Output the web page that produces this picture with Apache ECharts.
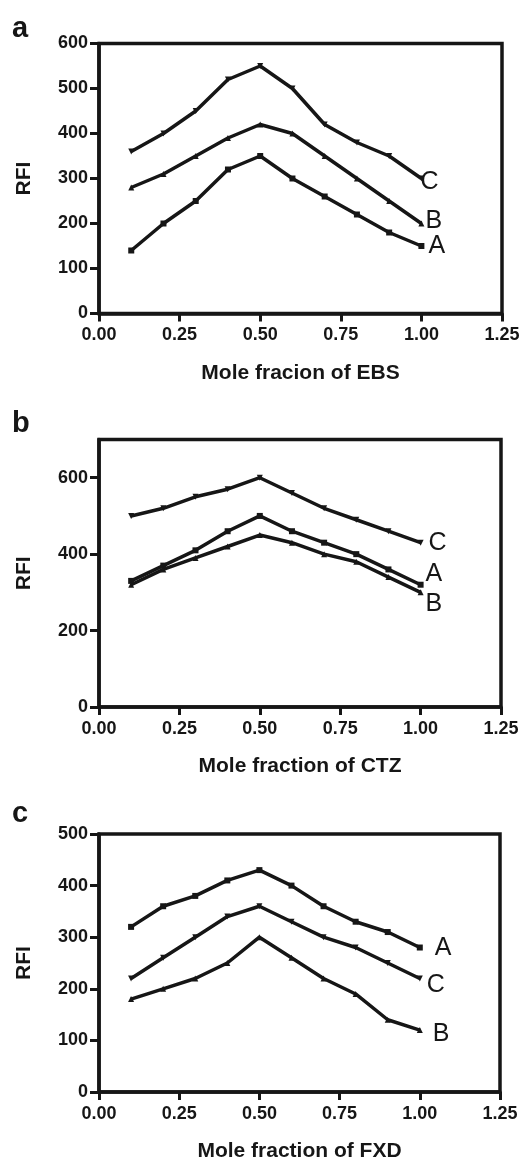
<!DOCTYPE html>
<html><head><meta charset="utf-8">
<script src="https://cdn.jsdelivr.net/npm/echarts@6/dist/echarts.min.js"></script>
<style>html,body{margin:0;padding:0;background:#fff}#c{width:526px;height:1163px}</style>
</head><body><div id="c"></div>
<script>
// ---- data ----
const moleFraction = [0.1, 0.2, 0.3, 0.4, 0.5, 0.6, 0.7, 0.8, 0.9, 1.0];
const seriesNames = ['A', 'B', 'C'];
// panel a (EBS)
const ebsA = [140, 200, 250, 320, 350, 300, 260, 220, 180, 150];
const ebsB = [280, 310, 350, 390, 420, 400, 350, 300, 250, 200];
const ebsC = [360, 400, 450, 520, 550, 500, 420, 380, 350, 300];
// panel b (CTZ)
const ctzA = [330, 370, 410, 460, 500, 460, 430, 400, 360, 320];
const ctzB = [320, 360, 390, 420, 450, 430, 400, 380, 340, 300];
const ctzC = [500, 520, 550, 570, 600, 560, 520, 490, 460, 430];
// panel c (FXD)
const fxdA = [320, 360, 380, 410, 430, 400, 360, 330, 310, 280];
const fxdB = [180, 200, 220, 250, 300, 260, 220, 190, 140, 120];
const fxdC = [220, 260, 300, 340, 360, 330, 300, 280, 250, 220];
// axis texts / ticks
const panelLetters = ['a', 'b', 'c'];
const xTitles = ['Mole fracion of EBS', 'Mole fraction of CTZ', 'Mole fraction of FXD'];
const yTitle = 'RFI';
const xTicks = [0, 0.25, 0.5, 0.75, 1.0, 1.25];
const yTicksA = [0, 100, 200, 300, 400, 500, 600];
const yTicksB = [0, 200, 400, 600];
const yTicksC = [0, 100, 200, 300, 400, 500];
const yMaxes = [600, 700, 500];

// ---- styling / layout ----
const INK = '#161616';
const FONT = '"Liberation Sans", Arial, Helvetica, sans-serif';
const grids = [
  {left: 99, top: 43.5, width: 403, height: 270},
  {left: 99, top: 439.5, width: 402, height: 267.5},
  {left: 99, top: 834, width: 401, height: 269}
];
const letterPos = [{x: 12, y: 31}, {x: 12, y: 426}, {x: 12, y: 816}];
const yTickSets = [yTicksA, yTicksB, yTicksC];
const panelData = [
  {A: ebsA, B: ebsB, C: ebsC},
  {A: ctzA, B: ctzB, C: ctzC},
  {A: fxdA, B: fxdB, C: fxdC}
];
const labelOffsets = [
  {A: [7, 0], B: [4, -2], C: [-1, 4]},
  {A: [5, -11], B: [5, 12], C: [8, 0]},
  {A: [15, 1], B: [13, 4], C: [7, 7]}
];
const symbols = {
  A: {symbol: 'rect', size: 6, rotate: 0},
  B: {symbol: 'triangle', size: 6, rotate: 0},
  C: {symbol: 'triangle', size: 6, rotate: 180}
};

const xAxes = [], yAxes = [], series = [], graphics = [];
grids.forEach(function (g, i) {
  xAxes.push({
    gridIndex: i, type: 'value', min: 0, max: 1.25, interval: 0.25,
    name: xTitles[i], nameLocation: 'middle', nameGap: 49,
    nameTextStyle: {fontFamily: FONT, fontWeight: 'bold', fontSize: 21, color: INK},
    axisLine: {show: true, onZero: false, lineStyle: {color: INK, width: 3.5}},
    axisTick: {show: true, length: 8, lineStyle: {color: INK, width: 3}, customValues: xTicks},
    axisLabel: {margin: 13, fontFamily: FONT, fontWeight: 'bold', fontSize: 18, color: INK,
      customValues: xTicks, formatter: function (v) { return v.toFixed(2); }},
    splitLine: {show: false}
  });
  yAxes.push({
    gridIndex: i, type: 'value', min: 0, max: yMaxes[i],
    name: yTitle, nameLocation: 'middle', nameGap: 64,
    nameTextStyle: {fontFamily: FONT, fontWeight: 'bold', fontSize: 21, color: INK},
    axisLine: {show: true, onZero: false, lineStyle: {color: INK, width: 3.5}},
    axisTick: {show: true, length: 9, lineStyle: {color: INK, width: 3}, customValues: yTickSets[i]},
    axisLabel: {margin: 11, fontFamily: FONT, fontWeight: 'bold', fontSize: 18, color: INK,
      customValues: yTickSets[i]},
    splitLine: {show: false}
  });
  seriesNames.forEach(function (n) {
    const vals = panelData[i][n];
    series.push({
      type: 'line', name: n, xAxisIndex: i, yAxisIndex: i,
      data: moleFraction.map(function (x, k) { return [x, vals[k]]; }),
      symbol: symbols[n].symbol, symbolSize: symbols[n].size, symbolRotate: symbols[n].rotate,
      showAllSymbol: true,
      lineStyle: {color: INK, width: 3.5, join: 'round'},
      itemStyle: {color: INK, borderWidth: 0},
      emphasis: {disabled: true},
      endLabel: {show: true, formatter: n, distance: 0, offset: labelOffsets[i][n],
        fontFamily: FONT, fontSize: 25, fontWeight: 'normal', color: INK},
      z: 3
    });
  });
  graphics.push({
    type: 'text', left: letterPos[i].x, top: letterPos[i].y - 17,
    style: {text: panelLetters[i], font: 'bold 29px ' + FONT, fill: INK}
  });
});

const chart = echarts.init(document.getElementById('c'), null, {renderer: 'canvas'});
chart.setOption({
  animation: false,
  backgroundColor: '#ffffff',
  grid: grids.map(function (g) {
    return Object.assign({show: true, borderColor: INK, borderWidth: 3.5, backgroundColor: 'transparent'}, g);
  }),
  xAxis: xAxes,
  yAxis: yAxes,
  series: series,
  graphic: graphics
});
</script>
</body></html>
